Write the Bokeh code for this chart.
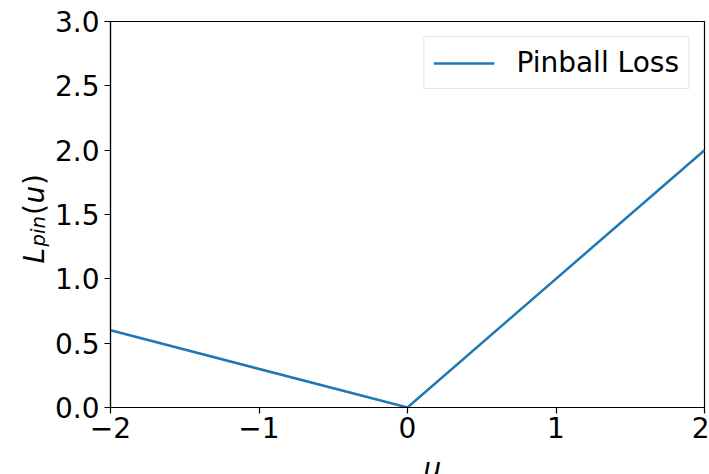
import math
from bokeh.plotting import figure
from bokeh.layouts import row, column
from bokeh.models import FixedTicker
from bokeh.core.properties import value
from bokeh.embed import file_html
from bokeh.resources import INLINE

# ---- data ----
u_vals = [-2.0, 0.0, 2.0]
loss_vals = [0.6, 0.0, 2.0]
series_name = "Pinball Loss"
x_ticks = [-2, -1, 0, 1, 2]
x_tick_labels = ["\u22122", "\u22121", "0", "1", "2"]
y_ticks = [0.0, 0.5, 1.0, 1.5, 2.0, 2.5, 3.0]
y_tick_labels = ["0.0", "0.5", "1.0", "1.5", "2.0", "2.5", "3.0"]

FONT = "DejaVu Sans"
FS = "28px"

W, H = 709, 474          # whole picture
LEFT_W = 50              # strip holding the y-axis label
BOT_H = 17               # strip holding the x-axis label
FL, FR, FT, FB = 110, 704, 21, 407   # plot frame in picture pixels


def strip(width, height):
    f = figure(width=width, height=height, x_range=(0, width), y_range=(0, height),
               output_backend="svg", toolbar_location=None,
               x_axis_location=None, y_axis_location=None,
               min_border=0)
    f.min_border_left = f.min_border_right = f.min_border_top = f.min_border_bottom = 0
    f.outline_line_color = None
    f.xgrid.visible = False
    f.ygrid.visible = False
    f.background_fill_color = "white"
    f.border_fill_color = "white"
    return f


# ---- main plot ----
p = figure(width=W - LEFT_W, height=H - BOT_H, x_range=(-2, 2), y_range=(0, 3),
           output_backend="svg", toolbar_location=None,
           min_border_left=FL - LEFT_W, min_border_right=W - FR,
           min_border_top=FT, min_border_bottom=(H - BOT_H) - FB)
p.background_fill_color = "white"
p.border_fill_color = "white"
p.outline_line_color = "black"
p.outline_line_width = 1.2
p.xgrid.visible = False
p.ygrid.visible = False

p.line(u_vals, loss_vals, line_color="#1f77b4", line_width=2.5,
       legend_label=series_name)

for ax, ticks, labels in ((p.xaxis[0], x_ticks, x_tick_labels),
                          (p.yaxis[0], y_ticks, y_tick_labels)):
    ax.ticker = FixedTicker(ticks=ticks)
    ax.major_label_overrides = {t: l for t, l in zip(ticks, labels)}
    ax.minor_tick_line_color = None
    ax.major_tick_in = 0
    ax.major_tick_out = 6
    ax.major_tick_line_color = "black"
    ax.major_tick_line_width = 1.2
    ax.axis_line_color = "black"
    ax.axis_line_width = 1.2
    ax.major_label_text_font = FONT
    ax.major_label_text_font_size = FS
    ax.major_label_text_color = "black"

p.xaxis.major_label_standoff = 3
p.yaxis.major_label_standoff = 5

lg = p.legend[0]
lg.location = "top_right"
lg.margin = 15
lg.padding = 9
lg.glyph_width = 61
lg.label_standoff = 22
lg.label_text_font = FONT
lg.label_text_font_size = FS
lg.label_text_color = "black"
lg.border_line_color = "#cccccc"
lg.border_line_width = 1
lg.background_fill_color = "white"
lg.background_fill_alpha = 0.8

# ---- y-axis label strip:  L_pin(u) ----
left = strip(LEFT_W, H)
ypieces = [
    ("L", "italic", "28px", 34, 17.0),
    ("pin", "italic", "19.6px", 38, 31.5),
    ("(", "normal", "28px", 34, 11.5),
    ("u", "italic", "28px", 34, 18.5),
    (")", "normal", "28px", 34, 10.9),
]
ypos = 263.0
for txt, style, size, bx, adv in ypieces:
    left.text(x=[bx], y=[H - ypos], text=[txt], angle=math.pi / 2,
              text_align="left", text_baseline="alphabetic",
              text_font=value(FONT), text_font_style=style,
              text_font_size=size, text_color="black")
    ypos -= adv

# ---- x-axis label strip:  u ----
bottom = strip(W - LEFT_W, BOT_H)
bottom.text(x=[(FL + FR) / 2 - LEFT_W], y=[6], text=["u"],
            text_align="center", text_baseline="middle",
            text_font=value(FONT), text_font_style="italic",
            text_font_size=FS, text_color="black")

layout = row(left, column(p, bottom))
open("out.html", "w").write(file_html(layout, INLINE))
